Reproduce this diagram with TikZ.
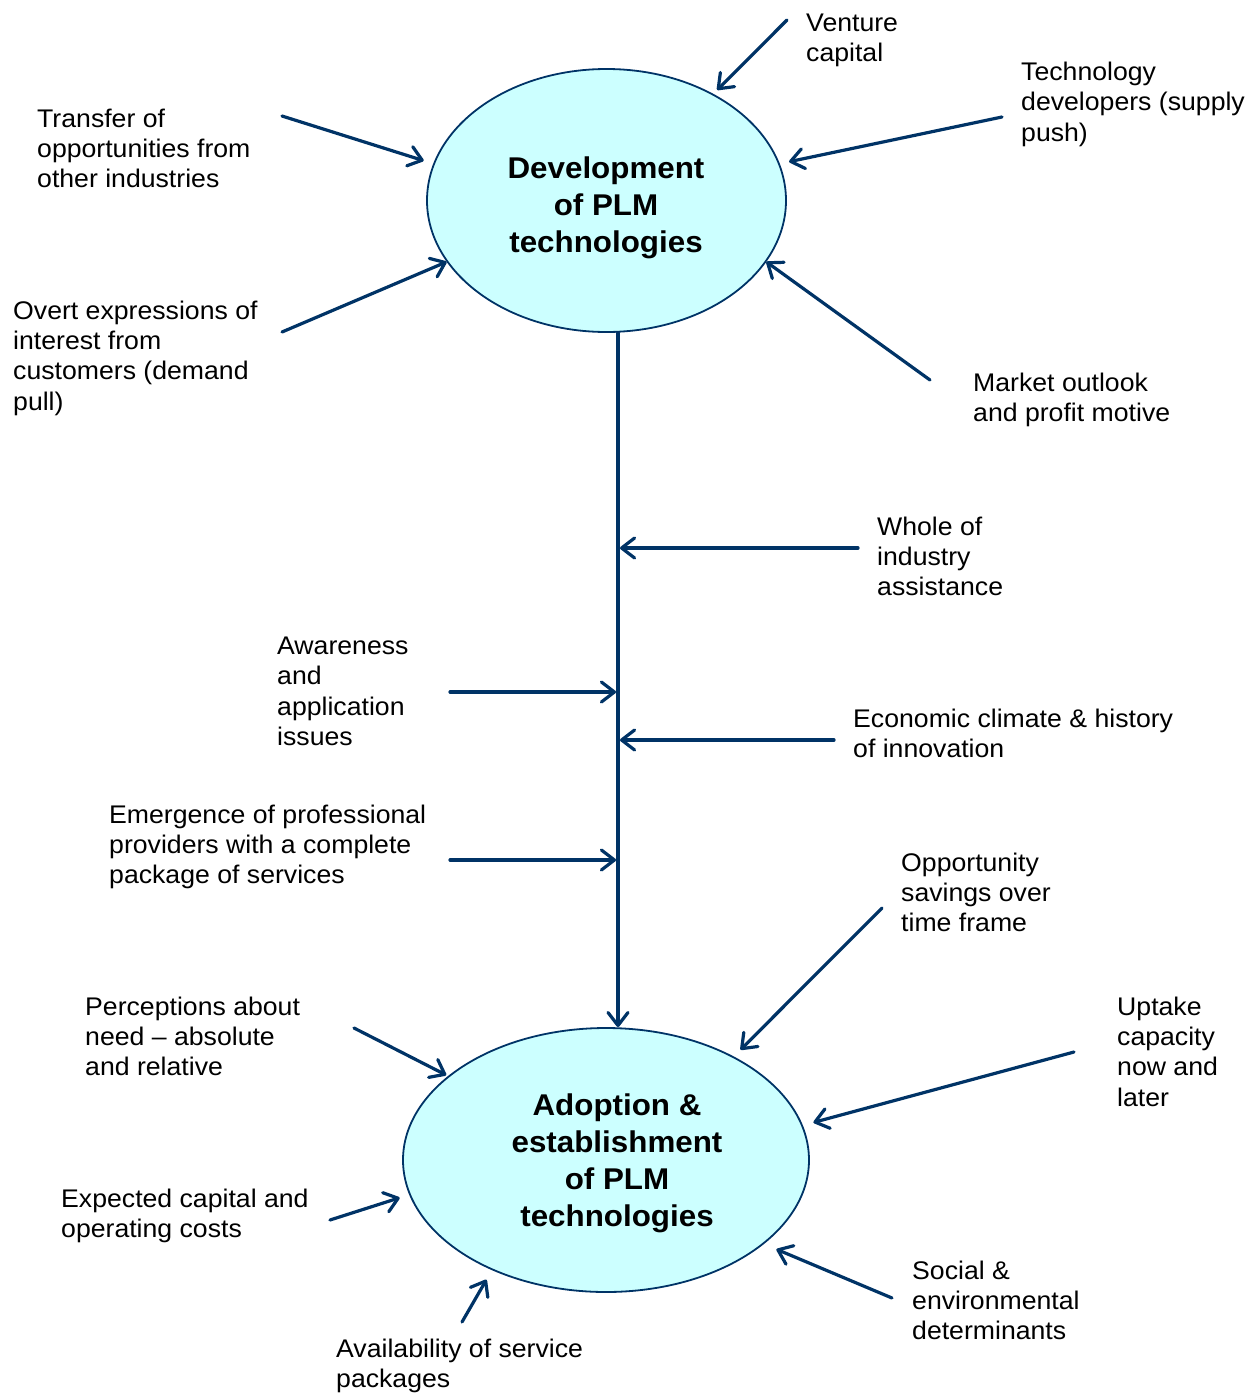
\documentclass[tikz,border=0pt]{standalone}
\usepackage{fontspec}
\setmainfont[FakeStretch=1.045]{Liberation Sans}
\usetikzlibrary{arrows.meta,shapes.geometric}
\definecolor{plmblue}{RGB}{0,51,102}
\definecolor{plmfill}{RGB}{204,255,255}

\begin{document}
\begin{tikzpicture}[x=1pt,y=-1pt,
    stage/.style={ellipse,draw=plmblue,line width=1.8pt,fill=plmfill,inner sep=0pt},
    title/.style={align=center,inner sep=0pt,font=\fontsize{30}{37}\selectfont\bfseries},
    lbl/.style={anchor=north west,align=left,inner sep=0pt,
        font=\fontsize{25.5}{30.4}\selectfont,execute at begin node={\rule{0pt}{21.3pt}}},
    arr/.style={color=plmblue,line width=3.2pt,line cap=round,
        -{Straight Barb[length=13pt,width=20pt,round]}}]
            \useasboundingbox (0,0) rectangle (1258,1393);

            \node [stage,minimum width=359pt,minimum height=263pt] (dev) at (606.5,200.5) {};
            \node [title] (devtxt) at (606,208) {Development\\of PLM\\technologies};
            \node [stage,minimum width=406pt,minimum height=264pt] (adopt) at (606,1160) {};
            \node [title] (adopttxt) at (617,1163) {Adoption \&\\establishment\\of PLM\\technologies};

            \node [lbl] (venture) at (806,13.5) {Venture\\capital};
            \node [lbl] (tech) at (1021,61.7) {Technology\\developers (supply\\push)};
            \node [lbl] (transfer) at (37,108.4) {Transfer of\\opportunities from\\other industries};
            \node [lbl] (overt) at (13,300.5) {Overt expressions of\\interest from\\customers (demand\\pull)};
            \node [lbl] (market) at (973,372.4) {Market outlook\\and profit motive};
            \node [lbl] (whole) at (877,516.5) {Whole of\\industry\\assistance};
            \node [lbl] (aware) at (277,636.5) {Awareness\\and\\application\\issues};
            \node [lbl] (econ) at (853,708.5) {Economic climate \& history\\of innovation};
            \node [lbl] (emerg) at (109,804.5) {Emergence of professional\\providers with a complete\\package of services};
            \node [lbl] (oppo) at (901,852.5) {Opportunity\\savings over\\time frame};
            \node [lbl] (perc) at (85,996.5) {Perceptions about\\need -- absolute\\and relative};
            \node [lbl] (uptake) at (1117,996.5) {Uptake\\capacity\\now and\\later};
            \node [lbl] (expect) at (61,1188.5) {Expected capital and\\operating costs};
            \node [lbl] (avail) at (336,1338.5) {Availability of service\\packages};
            \node [lbl] (social) at (912,1260.5) {Social \&\\environmental\\determinants};

            \coordinate (ventfrom) at (787,20);
            \coordinate (techfrom) at (1002,117);
            \coordinate (transferfrom) at (282,116);
            \coordinate (overtfrom) at (282,332);
            \coordinate (marketfrom) at (930,380);
            \coordinate (wholefrom) at (858,548);
            \coordinate (wholeto) at (618,548);
            \coordinate (awarefrom) at (450,692);
            \coordinate (awareto) at (618,692);
            \coordinate (econfrom) at (834,740);
            \coordinate (econto) at (618,740);
            \coordinate (emergfrom) at (450,860);
            \coordinate (emergto) at (618,860);
            \coordinate (oppofrom) at (882,908);
            \coordinate (percfrom) at (354,1028);
            \coordinate (uptakefrom) at (1074,1052);
            \coordinate (expectfrom) at (330,1220);
            \coordinate (availfrom) at (462,1322);
            \coordinate (socialfrom) at (892,1298);

            \path[arr]
            ([xshift=11.5pt]dev.south) edge ([xshift=12pt]adopt.north)
            (ventfrom) edge[shorten >=5.5pt] (dev.45)
            (techfrom) edge[shorten >=9.5pt] (dev.12)
            (transferfrom) edge[shorten >=10pt] (dev.168)
            (overtfrom) edge (dev.201)
            (marketfrom) edge (dev.339)
            (oppofrom) edge[shorten >=9.5pt] (adopt.39)
            (percfrom) edge[shorten >=2pt] (adopt.152)
            (uptakefrom) edge[shorten >=11pt] (adopt.10)
            (expectfrom) edge[shorten >=10pt] (adopt.190)
            (availfrom) edge[shorten >=11pt] (adopt.224)
            (socialfrom) edge[shorten >=13.5pt] (adopt.332)
            ;

            \path[arr,shorten >=2pt]
            (wholefrom) edge (wholeto)
            (awarefrom) edge (awareto)
            (econfrom) edge (econto)
            (emergfrom) edge (emergto)
            ;

\end{tikzpicture}
\end{document}
